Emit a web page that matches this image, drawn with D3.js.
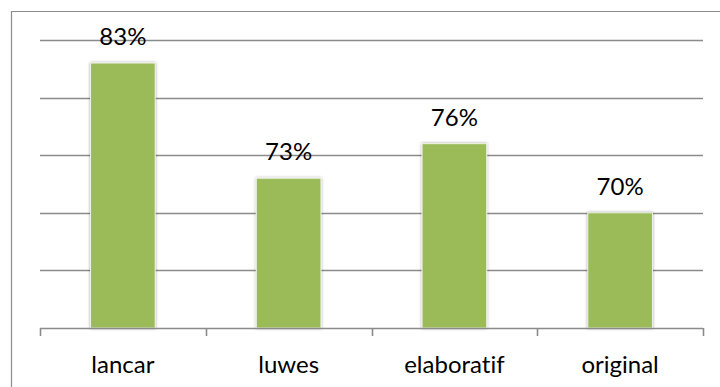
<!DOCTYPE html>
<html>
<head>
<meta charset="utf-8">
<script src="https://cdn.jsdelivr.net/npm/d3@7"></script>
<style>
  body { margin: 0; background: #fff; }
  svg { display: block; }
  text { font-family: Lato, "Open Sans", sans-serif; fill: #000; font-variant-ligatures: none; }
</style>
</head>
<body>
<div id="chart"></div>
<script>
const categories = ['lancar', 'luwes', 'elaboratif', 'original'];
const values = [83, 73, 76, 70];
const gridValues = [65, 70, 75, 80, 85];

const width = 720;
const height = 387;
const margin = { top: 40, right: 17, bottom: 59, left: 40 };

const svg = d3.select('#chart')
              .append('svg')
              .attr('width', width)
              .attr('height', height);

const defs = svg.append('defs');
const shadow = defs.append('filter')
                   .attr('id', 'shadow')
                   .attr('x', '-20%').attr('y', '-10%')
                   .attr('width', '140%').attr('height', '120%');
shadow.append('feDropShadow')
      .attr('dx', 0).attr('dy', 0)
      .attr('stdDeviation', 1.6)
      .attr('flood-color', '#000')
      .attr('flood-opacity', 0.35);

// outer frame (cropped at right/bottom)
svg.append('path')
   .attr('d', 'M11.5,' + height + 'V11.5H' + width)
   .attr('fill', 'none')
   .attr('stroke', '#8c8c8c')
   .attr('stroke-width', 1.2);

const x = d3.scaleBand()
            .domain(categories)
            .range([margin.left, width - margin.right])
            .paddingInner(0.61)
            .paddingOuter(0.305);

const y = d3.scaleLinear()
            .domain([60, 85])
            .range([height - margin.bottom, margin.top]);

svg.append('g')
   .selectAll('line')
   .data(gridValues)
   .enter()
   .append('line')
   .attr('x1', margin.left)
   .attr('x2', width - margin.right)
   .attr('y1', d => Math.round(y(d)) + 0.5)
   .attr('y2', d => Math.round(y(d)) + 0.5)
   .attr('stroke', '#8a8a8a')
   .attr('stroke-width', 1.6);

svg.append('g')
   .selectAll('rect')
   .data(values)
   .enter()
   .append('rect')
   .attr('x', (d, i) => x(categories[i]))
   .attr('y', d => y(d))
   .attr('width', x.bandwidth())
   .attr('height', d => y(60) - y(d))
   .attr('fill', '#9bbb59')
   .attr('stroke', '#eef3e2')
   .attr('stroke-width', 1)
   .attr('filter', 'url(#shadow)');

svg.append('g')
   .selectAll('text')
   .data(values)
   .enter()
   .append('text')
   .attr('x', (d, i) => x(categories[i]) + x.bandwidth() / 2)
   .attr('y', d => y(d) - 18)
   .attr('text-anchor', 'middle')
   .attr('font-size', 24)
   .text(d => d + '%');

const bandStep = (width - margin.right - margin.left) / categories.length;
const axis = d3.axisBottom(x)
               .tickSize(0)
               .tickPadding(28);

const axisG = svg.append('g')
                 .attr('transform', 'translate(0,' + y(60) + ')')
                 .call(axis);
axisG.select('.domain').remove();
axisG.selectAll('.tick text')
     .attr('font-size', 24)
     .attr('font-family', 'Lato, "Open Sans", sans-serif')
     .attr('fill', '#000');

axisG.append('line')
     .attr('x1', margin.left)
     .attr('x2', width - margin.right)
     .attr('y1', 0.5).attr('y2', 0.5)
     .attr('stroke', '#8a8a8a')
     .attr('stroke-width', 1.6);

axisG.selectAll('.sep')
     .data(d3.range(categories.length + 1))
     .enter()
     .append('line')
     .attr('class', 'sep')
     .attr('x1', i => Math.round(margin.left + i * bandStep) + 0.5)
     .attr('x2', i => Math.round(margin.left + i * bandStep) + 0.5)
     .attr('y1', 0).attr('y2', 8)
     .attr('stroke', '#8a8a8a')
     .attr('stroke-width', 1.6);
</script>
</body>
</html>
